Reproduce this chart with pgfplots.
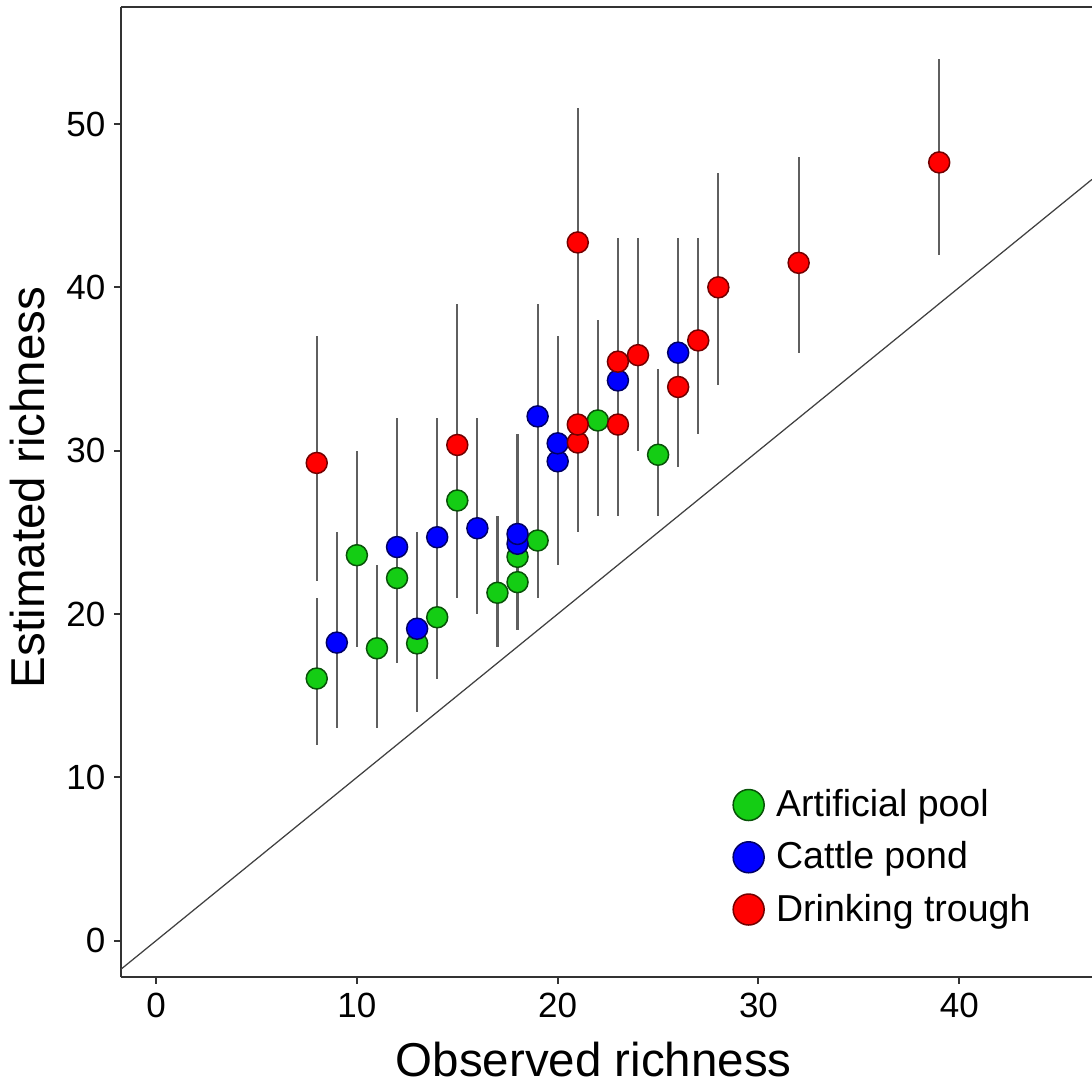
\documentclass[border=0pt]{standalone}
\usepackage{pgfplots}
\usepackage{pgfplotstable}
\usepackage{fontspec}
\setmainfont{Liberation Sans}
\pgfplotsset{compat=1.18}
\definecolor{apool}{RGB}{20,205,20}
\definecolor{cpond}{RGB}{0,0,255}
\definecolor{dtrough}{RGB}{255,0,0}
\definecolor{barGray}{RGB}{95,95,95}

% x = observed, y = estimated, lo/hi = interval ends
\pgfplotstableread{
x  y      lo  hi
8  16.05  12  21
10 23.60  18  30
11 17.90  13  23
12 22.20  17  32
13 18.20  14  25
14 19.80  16  32
15 26.95  21  39
17 21.30  18  26
18 21.95  19  31
18 23.50  19  31
19 24.50  21  39
22 31.85  26  38
25 29.75  26  35
}\tblPool
\pgfplotstableread{
x  y      lo  hi
9  18.25  13  25
12 24.10  17  32
13 19.10  14  25
14 24.70  16  32
16 25.25  20  32
18 24.30  19  31
18 24.90  19  31
19 32.10  21  39
20 29.35  23  37
20 30.45  23  37
23 34.30  26  43
26 36.00  29  43
}\tblPond
\pgfplotstableread{
x  y      lo  hi
8  29.25  22  37
15 30.35  21  39
21 30.50  25  51
21 31.60  25  51
21 42.75  25  51
23 31.60  26  43
23 35.45  26  43
24 35.85  30  43
26 33.90  29  43
27 36.75  31  43
28 40.00  34  47
32 41.50  36  48
39 47.65  42  54
}\tblTrough

\begin{document}
\begin{tikzpicture}
\begin{axis}[
    name=ax,
    scale only axis,
    width=388.5pt, height=388pt,
    xmin=-1.76, xmax=46.61,
    ymin=-2.24, ymax=57.15,
    axis x line*=box, axis y line*=left,
    xtick pos=left, ytick pos=left,
    axis line style={line width=0.8pt, black!80},
    tick style={line width=0.8pt, black!80},
    tick align=outside,
    major tick length=2.6pt,
    xtick={0,10,20,30,40},
    ytick={0,10,20,30,40,50},
    /pgf/number format/assume math mode=true,
    tick label style={font=\fontsize{14}{16}\selectfont, text=black},
    xlabel={Observed richness},
    ylabel={Estimated richness},
    label style={font=\fontsize{19}{22}\selectfont},
    xlabel style={at={(axis description cs:0.487,-0.102)}, anchor=base},
    ylabel style={at={(axis description cs:-0.078,0.505)}, anchor=base},
    legend cell align=left,
    legend style={draw=none, fill=none, inner sep=0pt,
        at={(axis description cs:0.630,0.205)}, anchor=north west,
        font=\fontsize{15}{18}\selectfont,
        nodes={inner sep=0.8pt, text height=14.3pt, text depth=5pt},
        /tikz/every odd column/.append style={column sep=4pt}},
    legend image post style={mark size=6.2pt},
    error bars/y dir=both,
    error bars/y explicit,
]
% 1:1 line
\addplot[black!75, line width=0.5pt, forget plot] coordinates {(-1.76,-1.76) (46.61,46.61)};

% interval bars
\addplot[only marks, mark=none, forget plot,
    error bars/.cd, error mark=none, error bar style={draw=barGray, line width=0.85pt}]
    table[x=x, y=y, y error plus expr=\thisrow{hi}-\thisrow{y}, y error minus expr=\thisrow{y}-\thisrow{lo}] {\tblPool};
\addplot[only marks, mark=none, forget plot,
    error bars/.cd, error mark=none, error bar style={draw=barGray, line width=0.85pt}]
    table[x=x, y=y, y error plus expr=\thisrow{hi}-\thisrow{y}, y error minus expr=\thisrow{y}-\thisrow{lo}] {\tblPond};
\addplot[only marks, mark=none, forget plot,
    error bars/.cd, error mark=none, error bar style={draw=barGray, line width=0.85pt}]
    table[x=x, y=y, y error plus expr=\thisrow{hi}-\thisrow{y}, y error minus expr=\thisrow{y}-\thisrow{lo}] {\tblTrough};

% points
\addplot[only marks, mark=*, mark size=4.2pt,
    mark options={fill=apool, draw=apool!40!black, line width=0.6pt}]
    table[x=x, y=y] {\tblPool};
\addplot[only marks, mark=*, mark size=4.2pt,
    mark options={fill=cpond, draw=cpond!40!black, line width=0.6pt}]
    table[x=x, y=y] {\tblPond};
\addplot[only marks, mark=*, mark size=4.2pt,
    mark options={fill=dtrough, draw=dtrough!45!black, line width=0.6pt}]
    table[x=x, y=y] {\tblTrough};
\legend{Artificial pool, Cattle pond, Drinking trough}
\end{axis}
\pgfresetboundingbox
\path[use as bounding box] ([shift={(-48.3pt,-44pt)}]ax.south west)
    rectangle ([shift={(0pt,2.9pt)}]ax.north east);
\end{tikzpicture}
\end{document}
